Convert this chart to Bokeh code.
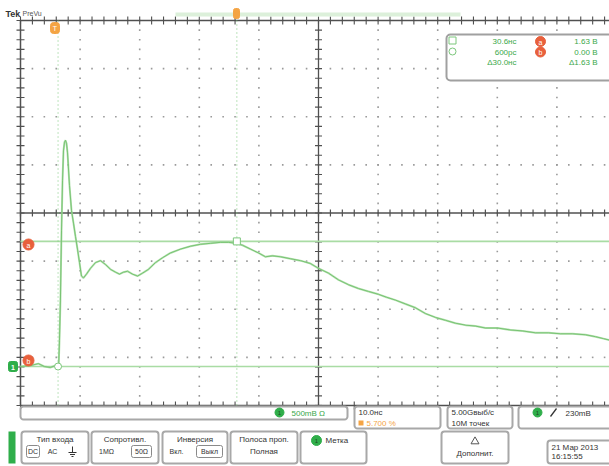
import numpy as np
from bokeh.plotting import figure
from bokeh.models import Range1d
from bokeh.core.properties import value
from bokeh.embed import file_html
from bokeh.resources import INLINE

# ---------------- data ----------------
time_ns = [-5.7, -4.0, -2.7, -1.7, -0.7, 0.2, 0.7, 0.84, 1.0, 1.18, 1.35, 1.51, 1.68, 1.85,
           2.02, 2.19, 2.52, 2.86, 3.19, 3.53, 3.86, 4.2, 4.53, 4.87, 5.37, 6.04, 6.88, 7.72,
           8.56, 9.4, 10.24, 10.91, 11.58, 12.25, 13.09, 13.93, 14.77, 15.78, 16.95, 18.13,
           19.47, 21.15, 22.82, 24.5, 26.18, 27.86, 29.2, 30.54, 31.55, 32.89, 34.23, 35.41,
           36.58, 37.93, 39.6, 41.28, 42.96, 44.3, 45.98, 47.66, 49.33, 51.01, 52.69, 54.37,
           55.71, 57.22, 58.9, 60.58, 62.26, 63.93, 65.61, 67.29, 68.97, 70.64, 72.32, 74.33,
           76.51, 78.53, 80.71, 82.89, 84.91, 86.92, 89.1, 90.78, 92.1, 93.4]
volts = [0.0, 0.01, 0.03, 0.0, -0.01, 0.01, 0.0, 0.27, 0.69, 1.41, 1.93, 2.24, 2.33, 2.35,
         2.32, 2.22, 1.88, 1.62, 1.49, 1.35, 1.22, 1.08, 0.94, 0.92, 0.96, 1.02, 1.08, 1.10,
         1.06, 1.01, 0.98, 0.96, 0.98, 0.99, 0.96, 0.94, 0.97, 1.01, 1.08, 1.13,
         1.18, 1.22, 1.25, 1.27, 1.28, 1.29, 1.29, 1.28, 1.26, 1.22, 1.18, 1.14,
         1.15, 1.14, 1.12, 1.10, 1.07, 1.02, 0.97, 0.90, 0.85, 0.81, 0.78, 0.75,
         0.72, 0.69, 0.65, 0.61, 0.55, 0.51, 0.48, 0.45, 0.43, 0.42, 0.40, 0.40,
         0.38, 0.37, 0.35, 0.35, 0.34, 0.34, 0.33, 0.31, 0.29, 0.27]

cursor_t_ns = [0.6, 30.6]      # vertical cursors b, a
cursor_v = [0.0, 1.30]         # horizontal cursors b, a

NS_PER_DIV = 10.0
V_PER_DIV = 0.5
TRIG_POS_PCT = 5.7
GND_DIV = -3.19               # ground offset from screen centre, in divisions

readout_left = ["30.6нс", "600рс", "Δ30.0нс"]
readout_right = ["1.63 В", "0.00 В", "Δ1.63 В"]
readout_marks = ["a", "b"]

# ---------------- geometry (pixels on the page) ----------------
PAGE_L, PAGE_T = 0, 0
W, H = 609, 466
G_L, G_T = 20.0, 20.0          # graticule top-left on page
DX, DY = 59.6, 48.125          # pixels per division

T0 = -TRIG_POS_PCT / 100.0 * 10 * NS_PER_DIV
VC = -GND_DIV * V_PER_DIV
VB, VT = VC - 4 * V_PER_DIV, VC + 4 * V_PER_DIV
T1 = T0 + 10 * NS_PER_DIV


def t_of(px):
    return T0 + (px - G_L) / DX * NS_PER_DIV


def v_of(py):
    return VT - (py - G_T) / DY * V_PER_DIV


p = figure(width=W, height=H, output_backend="svg", toolbar_location=None,
           x_range=Range1d(t_of(PAGE_L), t_of(PAGE_L + W)),
           y_range=Range1d(v_of(PAGE_T + H), v_of(PAGE_T)),
           x_axis_type=None, y_axis_type=None, min_border=0,
           outline_line_color=None, background_fill_color="white",
           border_fill_color="white")
p.extra_x_ranges = {"px": Range1d(PAGE_L, PAGE_L + W)}
p.extra_y_ranges = {"px": Range1d(PAGE_T + H, PAGE_T)}
PX = dict(x_range_name="px", y_range_name="px")

FONT = value("Liberation Sans")
GREEN_T = "#3aa84a"
GRID_C = "#9a9a9a"
AX_C = "#505050"

# ---------------- graticule ----------------
minor_t = np.arange(0, 51) * NS_PER_DIV / 5 + T0
minor_v = np.arange(0, 41) * V_PER_DIV / 5 + VB
for k in range(1, 10):
    if k == 5:
        continue
    tk = T0 + k * NS_PER_DIV
    p.scatter(np.full(len(minor_v), tk), minor_v, marker="square", size=1.6,
              color=GRID_C, line_color=None)
for j in range(1, 8):
    if j == 4:
        continue
    vj = VB + j * V_PER_DIV
    p.scatter(minor_t, np.full(len(minor_t), vj), marker="square", size=1.6,
              color=GRID_C, line_color=None)

tc = T0 + 5 * NS_PER_DIV
# centre cross
p.segment(x0=[tc, T0], y0=[VB, VC], x1=[tc, T1], y1=[VT, VC], line_color=AX_C, line_width=1.3)
p.scatter(np.full(len(minor_v), tc), minor_v, marker="dash", size=7, line_color=AX_C, line_width=1.2)
p.scatter(minor_t, np.full(len(minor_t), VC), marker="dash", angle=np.pi / 2, size=7,
          line_color=AX_C, line_width=1.2)
# borders
p.segment(x0=[T0, T0, T0], y0=[VB, VT, VB], x1=[T0, T1, T1], y1=[VT, VT, VB],
          line_color=AX_C, line_width=1.5)
p.scatter(np.full(len(minor_v), T0), minor_v, marker="dash", size=8, line_color=AX_C, line_width=1.1)
p.scatter(minor_t, np.full(len(minor_t), VT), marker="dash", angle=np.pi / 2, size=8,
          line_color=AX_C, line_width=1.1)
p.scatter(minor_t, np.full(len(minor_t), VB), marker="dash", angle=np.pi / 2, size=8,
          line_color=AX_C, line_width=1.1)

# ---------------- cursors ----------------
p.segment(x0=[T0, T0], y0=cursor_v, x1=[T1, T1], y1=cursor_v, line_color="#a9dca4", line_width=1.6)
p.segment(x0=cursor_t_ns, y0=[VB, VB], x1=cursor_t_ns, y1=[VT, VT], line_color="#7cc77c",
          line_width=1, line_dash="1 3")

# ---------------- waveform ----------------
p.line(time_ns, volts, line_color="#a3d99d", line_width=2.0, line_alpha=0.8)
p.line(time_ns, volts, line_color="#72bf6c", line_width=0.9)

# cursor intersection markers
p.scatter([cursor_t_ns[1]], [cursor_v[1]], marker="square", size=7, fill_color="white",
          line_color="#7cc77c")
p.scatter([cursor_t_ns[0]], [cursor_v[0]], marker="circle", size=7, fill_color="white",
          line_color="#7cc77c")

# ---------------- markers on the edge ----------------
RED = "#e8603c"
p.scatter([28, 28], [244, 360], marker="circle", size=11, color=RED, **PX)
p.text([28, 28], [244.5, 360.5], text=["a", "b"], text_font=FONT, text_font_size="7px",
       text_color="white", text_align="center", text_baseline="middle", **PX)
p.quad(left=[8], right=[17], top=[361], bottom=[371], color="#2fae4a", border_radius=2, **PX)
p.text([12.5], [366.5], text=["1"], text_font=FONT, text_font_size="7px", text_color="white",
       text_align="center", text_baseline="middle", text_font_style="bold", **PX)
# trigger marker
p.quad(left=[50], right=[59], top=[22], bottom=[33], color="#f4a444", border_radius=3, **PX)
p.text([54.5], [27.5], text=["T"], text_font=FONT, text_font_size="7px", text_color="white",
       text_align="center", text_baseline="middle", **PX)

# ---------------- top bar ----------------
p.text([5], [13], text=["Tek"], text_font=FONT, text_font_size="9px", text_font_style="bold",
       text_color="#333333", text_baseline="middle", **PX)
p.text([22], [13], text=["PreVu"], text_font=FONT, text_font_size="7px",
       text_color="#555555", text_baseline="middle", **PX)
p.quad(left=[175], right=[460], top=[12], bottom=[16], color="#dcf0da", line_color=None, **PX)
p.quad(left=[233], right=[239], top=[8], bottom=[18], color="#f4a444", border_radius=2, **PX)

# ---------------- cursor readout ----------------
p.quad(left=[446], right=[614], top=[34], bottom=[80], fill_color="white", line_color="#a0a0a0",
       line_width=2, border_radius=4, **PX)
p.scatter([452], [40], marker="square", size=7, fill_color="white", line_color="#7cc77c", **PX)
p.scatter([452], [51], marker="circle", size=7, fill_color="white", line_color="#7cc77c", **PX)
p.text([516, 516, 516], [41, 51.5, 62], text=readout_left, text_font=FONT, text_font_size="8px",
       text_color=GREEN_T, text_align="right", text_baseline="middle", **PX)
p.scatter([540, 540], [41, 51.5], marker="circle", size=10, color=RED, **PX)
p.text([540, 540], [41.5, 52], text=readout_marks, text_font=FONT, text_font_size="7px",
       text_color="white", text_align="center", text_baseline="middle", **PX)
p.text([597, 597, 597], [41, 51.5, 62], text=readout_right, text_font=FONT, text_font_size="8px",
       text_color=GREEN_T, text_align="right", text_baseline="middle", **PX)

# ---------------- status row ----------------
BOX_C = "#a8a8a8"
p.quad(left=[20, 354, 447, 518], right=[347, 440, 512, 615], top=[406, 406, 406, 406],
       bottom=[419, 428, 428, 428], fill_color="white", line_color=BOX_C, line_width=2,
       border_radius=3, **PX)
p.scatter([279, 537], [412, 412], marker="circle", size=9, color="#2fae4a", **PX)
p.text([279, 537], [412.5, 412.5], text=["1", "1"], text_font=FONT, text_font_size="6px",
       text_color="#1d4d22", text_align="center", text_baseline="middle", **PX)
p.text([291], [412.5], text=["500mВ Ω"], text_font=FONT, text_font_size="8px",
       text_color=GREEN_T, text_baseline="middle", **PX)
p.text([358, 451, 451], [411.5, 411.5, 422.5], text=["10.0нс", "5.00Gвыб/с", "10M точек"],
       text_font=FONT, text_font_size="8px", text_color="#333333", text_baseline="middle", **PX)
p.quad(left=[358], right=[363], top=[420], bottom=[425], color="#f4a444", line_color=None, **PX)
p.text([366], [422.5], text=["5.700 %"], text_font=FONT, text_font_size="8px",
       text_color="#f4a444", text_baseline="middle", **PX)
p.segment(x0=[550], y0=[416], x1=[556], y1=[408], line_color="#333333", line_width=1.3, **PX)
p.text([565], [412.5], text=["230mВ"], text_font=FONT, text_font_size="8px",
       text_color="#333333", text_baseline="middle", **PX)

# ---------------- button row ----------------
p.quad(left=[8], right=[15], top=[431], bottom=[463], color="#2fae4a", line_color=None, **PX)
p.quad(left=[21, 91, 162, 230, 300, 441, 547], right=[88, 158, 227, 297, 366, 508, 615],
       top=[431, 431, 431, 431, 431, 431, 440], bottom=[463, 463, 463, 463, 463, 463, 463],
       fill_color="white", line_color=BOX_C, line_width=2, border_radius=3, **PX)
p.text([54.5, 124.5, 194.5, 263.5, 263.5, 474.5], [439, 439, 439, 439, 451, 453],
       text=["Тип входа", "Сопротивл.", "Инверсия", "Полоса проп.", "Полная", "Дополнит."],
       text_font=FONT, text_font_size="8px", text_color="#333333", text_align="center",
       text_baseline="middle", **PX)
# sub-option boxes
p.quad(left=[26, 131, 196], right=[39, 151, 222], top=[445, 445, 445], bottom=[457, 457, 457],
       fill_color="white", line_color="#8a8a8a", line_width=1, border_radius=2, **PX)
p.text([32.5, 52, 106, 141, 176, 209], [451, 451, 451, 451, 451, 451],
       text=["DC", "AC", "1MΩ", "50Ω", "Вкл.", "Выкл"],
       text_font=FONT, text_font_size="7px", text_color="#333333", text_align="center",
       text_baseline="middle", **PX)
# ground symbol
p.segment(x0=[72, 68, 69.5, 71], y0=[446, 452, 454, 456], x1=[72, 76, 74.5, 73],
          y1=[452, 452, 454, 456], line_color="#333333", line_width=1, **PX)
# Метка
p.scatter([316], [440], marker="circle", size=10, color="#2fae4a", **PX)
p.text([316], [440.5], text=["1"], text_font=FONT, text_font_size="6px", text_color="#1d4d22",
       text_align="center", text_baseline="middle", **PX)
p.text([325], [440], text=["Метка"], text_font=FONT, text_font_size="8px", text_color="#333333",
       text_baseline="middle", **PX)
p.scatter([474.5], [441], marker="triangle", size=8, fill_color="white", line_color="#555555", **PX)
p.text([551, 551], [447, 456], text=["21 Мар 2013", "16:15:55"], text_font=FONT,
       text_font_size="8px", text_color="#333333", text_baseline="middle", **PX)

open("out.html", "w").write(file_html(p, INLINE))
